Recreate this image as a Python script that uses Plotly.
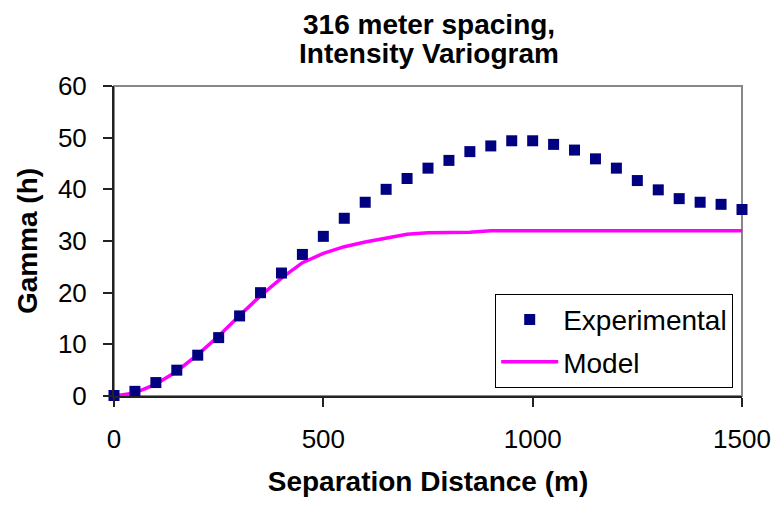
import plotly.graph_objects as go

distance = [0, 50, 100, 150, 200, 250, 300, 350, 400, 450, 500, 550, 600, 650, 700, 750,
            800, 850, 900, 950, 1000, 1050, 1100, 1150, 1200, 1250, 1300, 1350, 1400, 1450, 1500]
experimental = [0.1, 0.9, 2.6, 5.0, 7.9, 11.3, 15.5, 20.0, 23.8, 27.4, 30.9, 34.4, 37.5, 40.0, 42.1, 44.1,
                45.6, 47.3, 48.4, 49.4, 49.4, 48.7, 47.6, 45.9, 44.1, 41.7, 39.9, 38.2, 37.5, 37.1, 36.1]
model = [0.0, 0.6, 2.3, 4.8, 8.0, 11.6, 15.6, 19.4, 22.8, 25.8, 27.6, 28.9, 29.8, 30.6, 31.3, 31.6,
         31.6, 31.7, 32.0, 32.0, 32.0, 32.0, 32.0, 32.0, 32.0, 32.0, 32.0, 32.0, 32.0, 32.0, 32.0]

title_lines = ["316 meter spacing,", "Intensity Variogram"]
x_title = "Separation Distance (m)"
y_title = "Gamma (h)"
x_ticks = [0, 500, 1000, 1500]
y_ticks = [0, 10, 20, 30, 40, 50, 60]

FONT = "Liberation Sans, Arial, sans-serif"
FS = 26      # tick labels
FB = 28      # bold titles
FL = 28      # legend

fig = go.Figure()
fig.add_trace(go.Scatter(
    x=distance, y=model, mode="lines", name="Model",
    line=dict(color="#FF00FF", width=3.5), legendgroup="m", legendrank=2, cliponaxis=False))
fig.add_trace(go.Scatter(
    x=distance, y=experimental, mode="markers", name="Experimental",
    marker=dict(symbol="square", size=11, color="#000080", line=dict(width=0)),
    legendgroup="e", legendrank=1, cliponaxis=False))

fig.update_layout(
    width=778, height=506,
    margin=dict(l=114, r=36, t=86, b=110),
    paper_bgcolor="white", plot_bgcolor="white",
    font=dict(family=FONT, size=FS, color="black"),
    showlegend=True,
    legend=dict(x=0.607, y=0.330, xanchor="left", yanchor="top",
                bordercolor="black", borderwidth=1, bgcolor="white",
                font=dict(size=FL), traceorder="grouped", tracegroupgap=3,
                itemwidth=57),
    shapes=[dict(type="rect", xref="paper", yref="paper", x0=0, y0=0, x1=1, y1=1,
                 line=dict(color="#888888", width=2), layer="below")],
)

fig.update_xaxes(range=[0, 1500], tickvals=x_ticks, showgrid=False, zeroline=False,
                 automargin=False,
                 showline=True, linecolor="#222222", linewidth=2,
                 ticks="outside", ticklen=9, tickwidth=1.5, tickcolor="#222222",
                 tickfont=dict(size=FS), ticklabelstandoff=10,
                 title=dict(text="<b>" + x_title + "</b>", font=dict(size=FB), standoff=18))
fig.update_yaxes(range=[0, 60], tickvals=y_ticks, showgrid=False, zeroline=False,
                 automargin=False,
                 showline=True, linecolor="#222222", linewidth=2,
                 ticks="outside", ticklen=9, tickwidth=1.5, tickcolor="#222222",
                 tickfont=dict(size=FS), ticklabelstandoff=11,
                 title=dict(text="<b>" + y_title + "</b>", font=dict(size=FB), standoff=12))

fig.add_annotation(text="<b>" + title_lines[0] + "</b>", xref="paper", yref="paper",
                   x=0.502, y=1, yanchor="middle", yshift=62, showarrow=False, font=dict(size=FB))
fig.add_annotation(text="<b>" + title_lines[1] + "</b>", xref="paper", yref="paper",
                   x=0.502, y=1, yanchor="middle", yshift=33, showarrow=False, font=dict(size=FB))

fig.write_html("out.html")
